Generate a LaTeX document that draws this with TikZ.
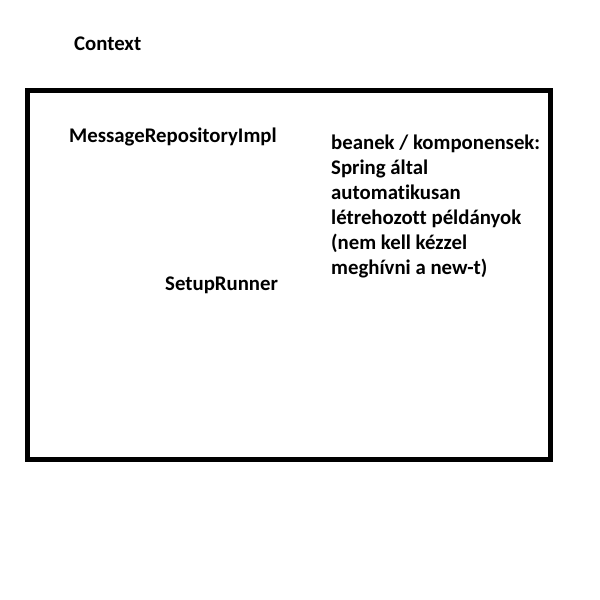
\documentclass[tikz,border=0pt]{standalone}
\usepackage{fontspec}
\setmainfont[Ligatures=NoCommon]{Carlito}
\usepackage{tikz}

\begin{document}
\begin{tikzpicture}[x=1pt,y=-1pt,join=miter,
        lbl/.style={anchor=base west,inner sep=0pt,font=\fontsize{20.8}{25}\selectfont\bfseries}]
        \useasboundingbox (0,0) rectangle (600,600);
        \draw[line width=5pt](27.5,90.5) rectangle (550.5,459.5); % context box
        \node[lbl] (context) at (74,50) {Context};
        \node[lbl] (repo) at (69,142) {MessageRepositoryImpl};
        \node[lbl] (runner) at (165,290) {SetupRunner};
        \node[lbl,align=left] (beans) at (331,274) {beanek / komponensek:\\Spring által\\automatikusan\\létrehozott példányok\\(nem kell kézzel\\meghívni a new-t)};
\end{tikzpicture}
\end{document}
